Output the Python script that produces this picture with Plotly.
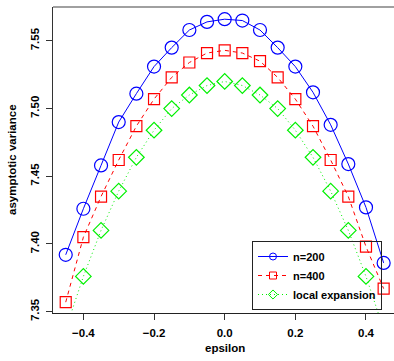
import plotly.graph_objects as go

epsilon = [-0.45, -0.40, -0.35, -0.30, -0.25, -0.20, -0.15, -0.10, -0.05, 0.00,
           0.05, 0.10, 0.15, 0.20, 0.25, 0.30, 0.35, 0.40, 0.45]
n200 = [7.392, 7.426, 7.458, 7.490, 7.511, 7.531, 7.545, 7.558, 7.564, 7.566,
        7.565, 7.558, 7.545, 7.531, 7.512, 7.488, 7.459, 7.427, 7.386]
n400 = [7.357, 7.405, 7.435, 7.462, 7.487, 7.507, 7.523, 7.534, 7.541, 7.543,
        7.541, 7.535, 7.523, 7.507, 7.487, 7.462, 7.435, 7.398, 7.367]
local_exp = [7.337, 7.376, 7.410, 7.439, 7.464, 7.484, 7.500, 7.510, 7.517, 7.520,
             7.517, 7.510, 7.500, 7.484, 7.464, 7.439, 7.410, 7.376, 7.337]
names = ["n=200", "n=400", "local expansion"]
yticks = [7.35, 7.40, 7.45, 7.50, 7.55]
xticks = [-0.4, -0.2, 0.0, 0.2, 0.4]

FONT = "Liberation Sans, Arial, Helvetica, sans-serif"

styles = [
    dict(color="#0000FF", dash="solid", symbol="circle-open", size=13),
    dict(color="#FF0000", dash="4px,4px", symbol="square-open", size=11),
    dict(color="#00F000", dash="1px,3px", symbol="diamond-open", size=12),
]
series = [n200, n400, local_exp]

fig = go.Figure()
# legend entries (small markers as in the reference legend), drawn under data
for name, st in zip(names, styles):
    fig.add_trace(go.Scatter(
        x=[None], y=[None], mode="lines+markers", name=name,
        line=dict(color=st["color"], width=1, dash=st["dash"]),
        marker=dict(symbol=st["symbol"], size=7, color=st["color"],
                    line=dict(color=st["color"], width=1)),
    ))
for name, ys, st in zip(names, series, styles):
    fig.add_trace(go.Scatter(
        x=epsilon, y=ys, mode="lines+markers", showlegend=False,
        line=dict(color=st["color"], width=1, dash=st["dash"]),
        marker=dict(symbol=st["symbol"], size=st["size"], color=st["color"],
                    line=dict(color=st["color"], width=1.2)),
    ))

fig.update_layout(
    width=394, height=361,
    margin=dict(l=53, r=0, t=7, b=48, autoexpand=False),
    paper_bgcolor="white", plot_bgcolor="white",
    font=dict(family=FONT, size=11.5, color="black"),
    showlegend=True,
    legend=dict(
        x=(252 - 53) / 341, y=(313 - 241) / 306, xanchor="left", yanchor="top",
        bgcolor="rgba(0,0,0,0)", bordercolor="#222222", borderwidth=1,
        font=dict(family=FONT, size=11, color="black", weight="bold"),
        itemwidth=30, tracegroupgap=0,
    ),
    xaxis=dict(
        range=[-0.486, 0.4793], tickvals=xticks, ticktext=["−0.4", "−0.2", "0.0", "0.2", "0.4"],
        showgrid=False, zeroline=False, showline=True, linecolor="#222222", linewidth=1,
        ticks="outside", ticklen=6, tickcolor="#333333", tickwidth=1, automargin=False,
        ticklabelstandoff=3,
        tickfont=dict(family=FONT, size=11.5, weight="bold"),
    ),
    yaxis=dict(
        range=[7.349, 7.575], tickvals=yticks, ticktext=["7.35", "7.40", "7.45", "7.50", "7.55"],
        showgrid=False, zeroline=False, showline=True, linecolor="#333333", linewidth=1,
        ticks="outside", ticklen=6, tickcolor="#333333", tickwidth=1, tickangle=-90,
        automargin=False, ticklabelstandoff=2,
        tickfont=dict(family=FONT, size=11.5, weight="bold"),
    ),
    shapes=[dict(type="line", xref="paper", yref="paper", x0=0, x1=1, y0=1, y1=1,
                 line=dict(color="#808080", width=1.5))],
    annotations=[
        dict(text="<b>epsilon</b>", xref="paper", yref="paper", x=(225 - 53) / 341,
             y=(313 - 347.5) / 306, xanchor="center", yanchor="middle", showarrow=False,
             font=dict(family=FONT, size=11.5)),
        dict(text="<b>asymptotic variance</b>", xref="paper", yref="paper", x=(12 - 53) / 341,
             y=0.5, xanchor="center", yanchor="middle", showarrow=False, textangle=-90,
             font=dict(family=FONT, size=11.5)),
    ],
)

fig.write_html("out.html", config={"displayModeBar": False},
               post_script="document.body.style.margin='0';document.body.style.padding='0';")
